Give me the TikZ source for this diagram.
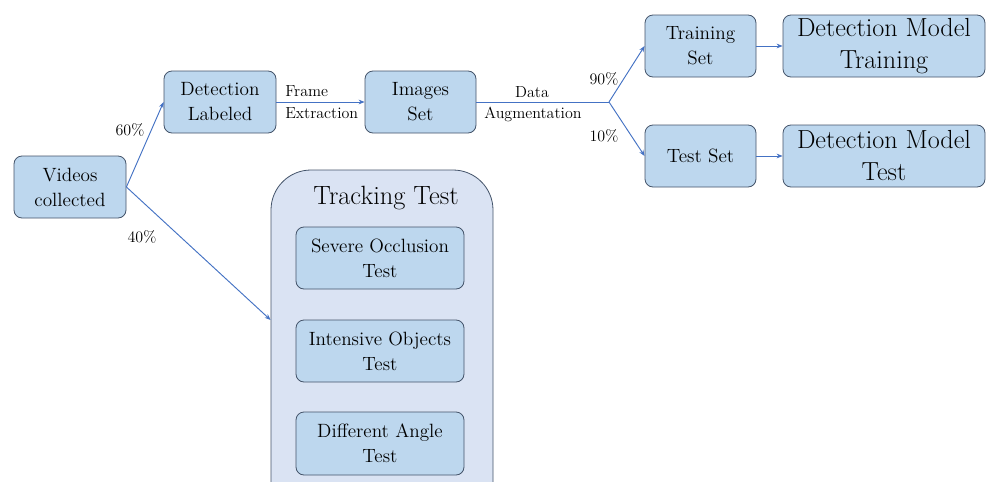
\documentclass[tikz,border=0pt]{standalone}
\usetikzlibrary{arrows.meta}
\definecolor{boxfill}{HTML}{BDD7EE}
\definecolor{boxline}{HTML}{44546A}
\definecolor{outerfill}{HTML}{DAE3F3}
\definecolor{arrowc}{HTML}{4472C4}
\begin{document}
\begin{tikzpicture}[x=0.75pt,y=-0.75pt,
  bx/.style={draw=boxline,fill=boxfill,rounded corners=6pt,line width=0.6pt,align=center,inner sep=0pt,font=\fontsize{14.4}{18.75}\selectfont},
  bigbx/.style={bx,font=\fontsize{19.6}{24}\selectfont},
  lbl/.style={font=\fontsize{12}{16.5}\selectfont,align=center,inner sep=0pt},
  arr/.style={draw=arrowc,line width=0.7pt,-{Stealth[length=4.5pt,width=3.5pt]}},
  ln/.style={draw=arrowc,line width=0.7pt}]
\useasboundingbox (0,0) rectangle (986,482);
\fill[white] (0,0) rectangle (986,482);
% tracking container
\begin{scope}
\clip (0,0) rectangle (986,482);
\node[draw=boxline,fill=outerfill,rounded corners=30pt,line width=0.6pt,minimum width=222*0.75pt,minimum height=360*0.75pt,inner sep=0pt] (track) at (382,350) {};
\end{scope}
\node[font=\fontsize{19.8}{24}\selectfont,inner sep=0pt] (tracktitle) at (386,198) {Tracking Test};
\node[bx,minimum width=168*0.75pt,minimum height=62*0.75pt] (sev) at (380,258) {Severe Occlusion\\Test};
\node[bx,minimum width=168*0.75pt,minimum height=62*0.75pt] (int) at (380,351) {Intensive Objects\\Test};
\node[bx,minimum width=168*0.75pt,minimum height=63*0.75pt] (diff) at (380,443.5) {Different Angle\\Test};
% main boxes
\node[bx,minimum width=112*0.75pt,minimum height=62*0.75pt] (vid) at (70,187) {Videos\\collected};
\node[bx,minimum width=112*0.75pt,minimum height=62*0.75pt] (det) at (220,102) {Detection\\Labeled};
\node[bx,minimum width=111*0.75pt,minimum height=62*0.75pt] (img) at (420.5,102) {Images\\Set};
\node[bx,minimum width=111*0.75pt,minimum height=62*0.75pt] (train) at (700.5,46) {Training\\Set};
\node[bx,minimum width=111*0.75pt,minimum height=62*0.75pt] (test) at (700.5,156) {Test Set};
\node[bigbx,minimum width=202*0.75pt,minimum height=62*0.75pt] (dmt) at (884,46) {Detection Model\\Training};
\node[bigbx,minimum width=202*0.75pt,minimum height=62*0.75pt] (dmtest) at (884,156) {Detection Model\\Test};
% connectors
\coordinate (split) at (609,102);
\draw[arr] (vid.east) -- (det.west);
\draw[arr] (vid.east) -- (track.west |- 0,320);
\draw[arr] (det.east) -- (img.west);
\draw[ln] (img.east) -- (split);
\draw[arr] (split) -- (train.west);
\draw[arr] (split) -- (test.west);
\draw[arr] (train.east) -- (dmt.west);
\draw[arr] (test.east) -- (dmtest.west);
% labels
\node[lbl] (p60) at (130,130) {60\%};
\node[lbl] (p40) at (142,237) {40\%};
\node[lbl,anchor=west] (fr) at (285,91) {Frame};
\node[lbl,anchor=west] (ex) at (285,113) {Extraction};
\node[lbl] (data) at (532,92) {Data};
\node[lbl] (aug) at (533,114) {Augmentation};
\node[lbl] (p90) at (604,79) {90\%};
\node[lbl] (p10) at (604,136) {10\%};
\end{tikzpicture}
\end{document}
